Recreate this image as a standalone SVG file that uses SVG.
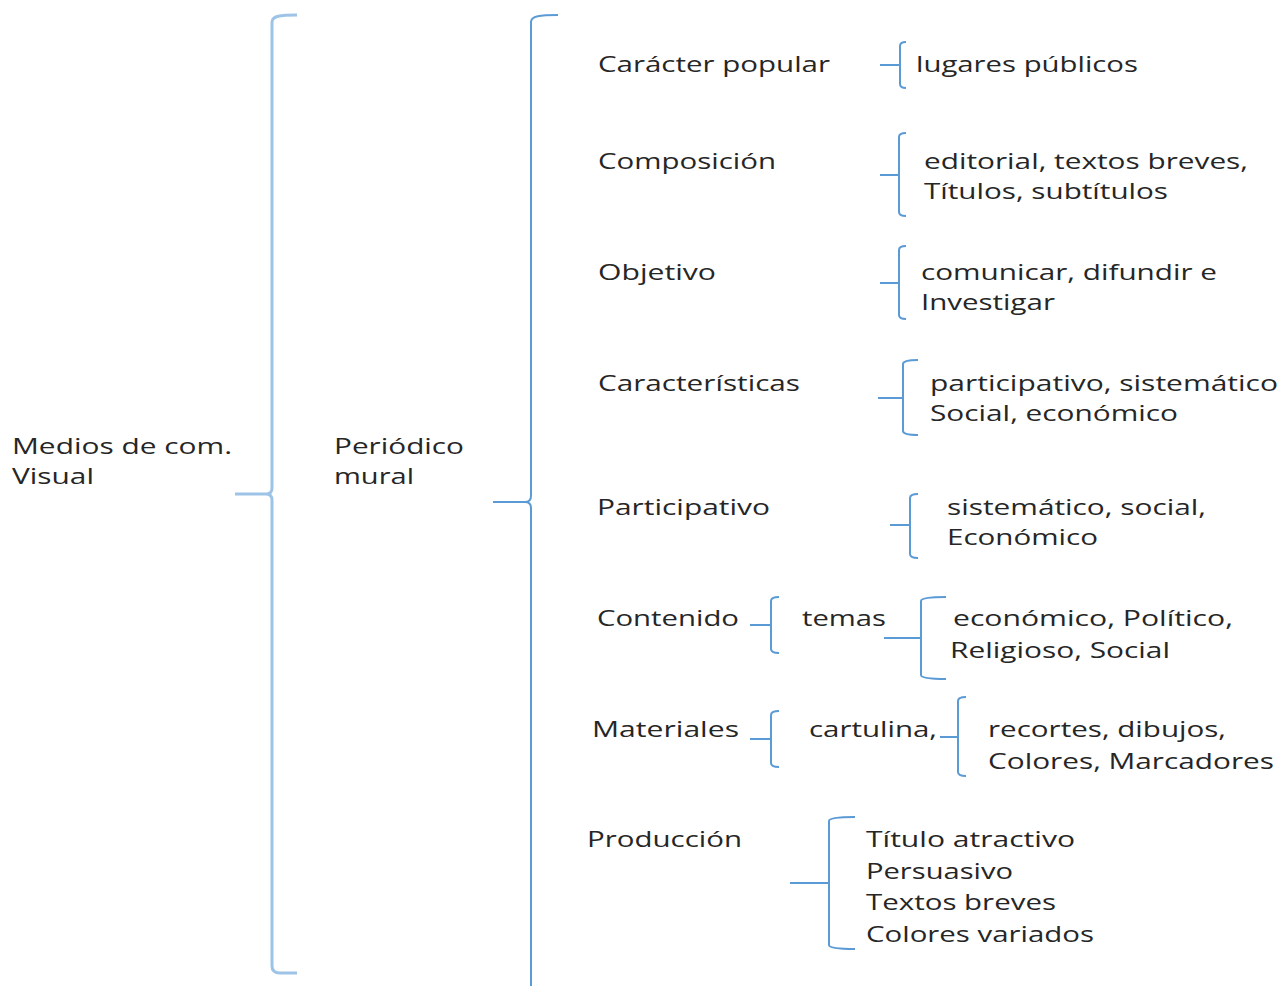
<svg xmlns="http://www.w3.org/2000/svg" width="1282" height="986" viewBox="0 0 1282 986">
<style>
text{font-family:"Open Sans","DejaVu Sans",sans-serif;font-size:22px;fill:#262626;}
.b{fill:none;stroke:#5b9bd5;stroke-width:2;stroke-linejoin:round;}
.l{stroke:#9dc3e6;stroke-width:3;}
</style>
<rect width="1282" height="986" fill="#fff"/>
<g id="connectors">
<path class="b l" d="M297,15 C280,15 272,16 272,22 L272,488 Q272,494 266,494 L235,494 M266,494 Q272,494 272,500 L272,966 Q272,973 280,973 L297,973"/>
<path class="b" d="M558,15 C540,15 531,16 531,22 L531,496 Q531,502 525,502 L493,502 M525,502 Q531,502 531,508 L531,986"/>
<path class="b" d="M906,42 Q900,42 900,46 L900,65 L880,65 M900,65 L900,84 Q900,88 906,88"/>
<path class="b" d="M906,133 Q899,133 899,137 L899,175 L880,175 M899,175 L899,212 Q899,216 906,216"/>
<path class="b" d="M906,246 Q899,246 899,250 L899,283 L880,283 M899,283 L899,315 Q899,319 906,319"/>
<path class="b" d="M918,360 Q903,360 903,364 L903,398 L878,398 M903,398 L903,431 Q903,435 918,435"/>
<path class="b" d="M918,494 Q910,494 910,498 L910,525 L890,525 M910,525 L910,554 Q910,558 918,558"/>
<path class="b" d="M779,597 Q771,597 771,601 L771,625 L750,625 M771,625 L771,649 Q771,653 779,653"/>
<path class="b" d="M946,597 Q921,597 921,601 L921,638 L884,638 M921,638 L921,675 Q921,679 946,679"/>
<path class="b" d="M779,711 Q771,711 771,715 L771,739 L750,739 M771,739 L771,763 Q771,767 779,767"/>
<path class="b" d="M966,697 Q958,697 958,701 L958,737 L940,737 M958,737 L958,772 Q958,776 966,776"/>
<path class="b" d="M855,817 Q829,817 829,821 L829,883 L790,883 M829,883 L829,945 Q829,949 855,949"/>
</g>
<g id="n-medios"><text x="12" y="454" textLength="220" lengthAdjust="spacingAndGlyphs">Medios de com.</text><text x="12" y="484" textLength="82" lengthAdjust="spacingAndGlyphs">Visual</text></g>
<g id="n-periodico"><text x="334" y="454" textLength="130" lengthAdjust="spacingAndGlyphs">Periódico</text><text x="334" y="484" textLength="80" lengthAdjust="spacingAndGlyphs">mural</text></g>
<g id="n-caracter"><text x="598" y="72" textLength="232" lengthAdjust="spacingAndGlyphs">Carácter popular</text></g>
<g id="n-lugares"><text x="916" y="72" textLength="222" lengthAdjust="spacingAndGlyphs">lugares públicos</text></g>
<g id="n-composicion"><text x="598" y="169" textLength="178" lengthAdjust="spacingAndGlyphs">Composición</text></g>
<g id="n-editorial"><text x="924" y="169" textLength="324" lengthAdjust="spacingAndGlyphs">editorial, textos breves,</text><text x="924" y="199" textLength="244" lengthAdjust="spacingAndGlyphs">Títulos, subtítulos</text></g>
<g id="n-objetivo"><text x="598" y="280" textLength="118" lengthAdjust="spacingAndGlyphs">Objetivo</text></g>
<g id="n-comunicar"><text x="921" y="280" textLength="296" lengthAdjust="spacingAndGlyphs">comunicar, difundir e</text><text x="921" y="310" textLength="134" lengthAdjust="spacingAndGlyphs">Investigar</text></g>
<g id="n-caracteristicas"><text x="598" y="391" textLength="202" lengthAdjust="spacingAndGlyphs">Características</text></g>
<g id="n-participativo-list"><text x="930" y="391" textLength="348" lengthAdjust="spacingAndGlyphs">participativo, sistemático</text><text x="930" y="421" textLength="248" lengthAdjust="spacingAndGlyphs">Social, económico</text></g>
<g id="n-participativo"><text x="597" y="515" textLength="173" lengthAdjust="spacingAndGlyphs">Participativo</text></g>
<g id="n-sistematico"><text x="947" y="515" textLength="259" lengthAdjust="spacingAndGlyphs">sistemático, social,</text><text x="947" y="545" textLength="151" lengthAdjust="spacingAndGlyphs">Económico</text></g>
<g id="n-contenido"><text x="597" y="626" textLength="142" lengthAdjust="spacingAndGlyphs">Contenido</text></g>
<g id="n-temas"><text x="802" y="626" textLength="84" lengthAdjust="spacingAndGlyphs">temas</text></g>
<g id="n-economico"><text x="953" y="626" textLength="280" lengthAdjust="spacingAndGlyphs">económico, Político,</text><text x="950" y="658" textLength="220" lengthAdjust="spacingAndGlyphs">Religioso, Social</text></g>
<g id="n-materiales"><text x="592" y="737" textLength="147" lengthAdjust="spacingAndGlyphs">Materiales</text></g>
<g id="n-cartulina"><text x="809" y="737" textLength="128" lengthAdjust="spacingAndGlyphs">cartulina,</text></g>
<g id="n-recortes"><text x="988" y="737" textLength="238" lengthAdjust="spacingAndGlyphs">recortes, dibujos,</text><text x="988" y="769" textLength="286" lengthAdjust="spacingAndGlyphs">Colores, Marcadores</text></g>
<g id="n-produccion"><text x="587" y="847" textLength="155" lengthAdjust="spacingAndGlyphs">Producción</text></g>
<g id="n-titulo"><text x="866" y="847" textLength="209" lengthAdjust="spacingAndGlyphs">Título atractivo</text><text x="866" y="879" textLength="147" lengthAdjust="spacingAndGlyphs">Persuasivo</text><text x="866" y="910" textLength="190" lengthAdjust="spacingAndGlyphs">Textos breves</text><text x="866" y="942" textLength="228" lengthAdjust="spacingAndGlyphs">Colores variados</text></g>
</svg>
